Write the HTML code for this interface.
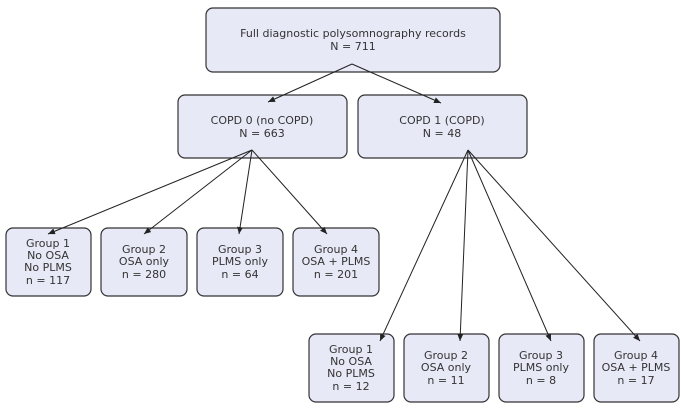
<!DOCTYPE html>
<html><head><meta charset="utf-8"><style>
body{margin:0;background:#fff}
svg text{font-family:"DejaVu Sans",sans-serif;font-size:11px;fill:#333;text-anchor:middle}
</style></head><body>
<svg width="684" height="409" viewBox="0 0 684 409">
<defs><marker id="a" markerWidth="8" markerHeight="8" refX="7" refY="3" orient="auto" markerUnits="userSpaceOnUse"><path d="M0,0 L7,3 L0,6 z" fill="#222"/></marker></defs>
<g fill="#e8e9f6" stroke="#333" stroke-width="1.2">
<rect x="206" y="8" width="294" height="64" rx="7"/>
<rect x="178" y="95" width="169" height="63" rx="7"/>
<rect x="358" y="95" width="169" height="63" rx="7"/>
<rect x="6" y="228" width="85" height="68" rx="7"/>
<rect x="101" y="228" width="86" height="68" rx="7"/>
<rect x="197" y="228" width="86" height="68" rx="7"/>
<rect x="293" y="228" width="86" height="68" rx="7"/>
<rect x="309" y="334" width="85" height="68" rx="7"/>
<rect x="404" y="334" width="85" height="68" rx="7"/>
<rect x="499" y="334" width="85" height="68" rx="7"/>
<rect x="594" y="334" width="85" height="68" rx="7"/>
</g>
<g stroke="#222" stroke-width="1" marker-end="url(#a)">
<line x1="352" y1="64" x2="268" y2="102"/>
<line x1="352" y1="64" x2="441" y2="103"/>
<line x1="252" y1="150" x2="48" y2="234"/>
<line x1="252" y1="150" x2="144" y2="234"/>
<line x1="252" y1="150" x2="239" y2="234"/>
<line x1="252" y1="150" x2="327" y2="234"/>
<line x1="468" y1="150" x2="380" y2="341"/>
<line x1="468" y1="150" x2="460" y2="341"/>
<line x1="468" y1="150" x2="551" y2="341"/>
<line x1="468" y1="150" x2="640" y2="341"/>
</g>
<text x="353" y="37">Full diagnostic polysomnography records</text><text x="353" y="50">N = 711</text>
<text x="262" y="124">COPD 0 (no COPD)</text><text x="262" y="137">N = 663</text>
<text x="442" y="124">COPD 1 (COPD)</text><text x="442" y="137">N = 48</text>
<text x="48" y="247">Group 1</text><text x="48" y="259">No OSA</text><text x="48" y="271">No PLMS</text><text x="48" y="284">n = 117</text>
<text x="144" y="253">Group 2</text><text x="144" y="265">OSA only</text><text x="144" y="278">n = 280</text>
<text x="240" y="253">Group 3</text><text x="240" y="265">PLMS only</text><text x="240" y="278">n = 64</text>
<text x="336" y="253">Group 4</text><text x="336" y="265">OSA + PLMS</text><text x="336" y="278">n = 201</text>
<text x="351" y="353">Group 1</text><text x="351" y="365">No OSA</text><text x="351" y="377">No PLMS</text><text x="351" y="390">n = 12</text>
<text x="446" y="359">Group 2</text><text x="446" y="371">OSA only</text><text x="446" y="384">n = 11</text>
<text x="541" y="359">Group 3</text><text x="541" y="371">PLMS only</text><text x="541" y="384">n = 8</text>
<text x="636" y="359">Group 4</text><text x="636" y="371">OSA + PLMS</text><text x="636" y="384">n = 17</text>
</svg>
</body></html>
